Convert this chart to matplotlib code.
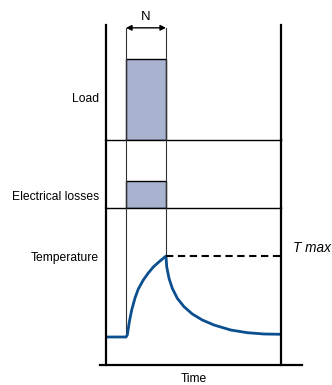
import matplotlib
matplotlib.use("Agg")
import matplotlib.pyplot as plt

plt.rcParams["font.family"] = ["Liberation Sans", "DejaVu Sans"]

# time axis (arbitrary units)
t_start = 0.0
t_on = 1.0
t_off = 3.0
t_end = 8.75

# panel values
load_level = 1.0
loss_level = 1.0

# temperature
temp_t = [0.0, 1.0, 1.065, 1.165, 1.285, 1.45, 1.615, 1.865, 2.115, 2.365, 2.7, 3.0,
          3.035, 3.15, 3.315, 3.565, 3.9, 4.315, 4.815, 5.4, 6.235, 7.065, 7.9, 8.75]
temp_v = [28, 28, 30, 43, 55, 67, 76, 85, 92, 98, 104, 109,
          98.3, 86.7, 76.7, 66.7, 58.3, 51, 45, 40, 35, 32.3, 31, 30.7]
t_max = 109

labels = ["Load", "Electrical losses", "Temperature"]
box_color = "#a9b3cf"
curve_color = "#0b4f8f"

fig = plt.figure(figsize=(3.32, 3.85), dpi=100)
left, width = 106 / 332, 175 / 332
ax1 = fig.add_axes([left, 1 - 140 / 385, width, 115 / 385])
ax2 = fig.add_axes([left, 1 - 208 / 385, width, 68 / 385])
ax3 = fig.add_axes([left, 1 - 365 / 385, width, 157 / 385])

ax1.set_ylim(0, 1.42)
ax2.set_ylim(0, 2.52)
ax3.set_ylim(0, 157)

for ax in (ax1, ax2, ax3):
    ax.set_xlim(t_start, t_end)
    ax.set_xticks([])
    ax.set_yticks([])
    ax.patch.set_alpha(0)
    ax.spines["top"].set_visible(False)
    for s in ("left", "right"):
        ax.spines[s].set_linewidth(1.6)
    ax.spines["bottom"].set_linewidth(1.0)
ax3.spines["bottom"].set_visible(False)

# load and losses blocks
ax1.bar(t_on, load_level, width=t_off - t_on, align="edge",
        color=box_color, edgecolor="black", linewidth=1.0)
ax2.bar(t_on, loss_level, width=t_off - t_on, align="edge",
        color=box_color, edgecolor="black", linewidth=1.0)

# thin guide lines
for t in (t_on, t_off):
    ax1.plot([t, t], [0, 1.385], color="#333333", lw=0.8)
    ax2.plot([t, t], [0, 2.52], color="#333333", lw=0.8)
ax3.plot([t_on, t_on], [temp_v[1], 157], color="#333333", lw=0.8)
ax3.plot([t_off, t_off], [t_max, 157], color="#333333", lw=0.8)

# N arrow
ax1.annotate("", xy=(t_on, 1.385), xytext=(t_off, 1.385),
             arrowprops=dict(arrowstyle="<|-|>", color="black", lw=1.0,
                             mutation_scale=8, shrinkA=0, shrinkB=0))
ax1.text((t_on + t_off) / 2, 1.52, "N", ha="center", va="center",
         fontsize=9.5, clip_on=False)

# temperature curve
ax3.plot(temp_t, temp_v, color=curve_color, lw=2.0,
         solid_joinstyle="round", solid_capstyle="butt")
ax3.plot([t_off, t_end], [t_max, t_max], color="black", lw=1.5,
         linestyle=(0, (3.5, 2.2)))
ax3.text(t_end + 0.6, t_max + 8, "T max", style="italic", fontsize=9.8,
         ha="left", va="center", clip_on=False)

# time axis line
ax3.plot([-0.3, 9.8], [0, 0], color="black", lw=1.6, clip_on=False)

# row labels
fig.text(99 / 332, 1 - 99 / 385, labels[0], ha="right", va="center", fontsize=8.7)
fig.text(99 / 332, 1 - 197 / 385, labels[1], ha="right", va="center", fontsize=8.7)
fig.text(99 / 332, 1 - 258 / 385, labels[2], ha="right", va="center", fontsize=8.7)
fig.text(194 / 332, 1 - 379 / 385, "Time", ha="center", va="center", fontsize=8.7)

fig.savefig("out.png", dpi=100)
